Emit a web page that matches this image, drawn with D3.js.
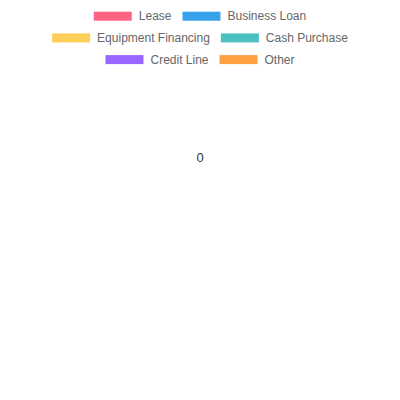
<!DOCTYPE html>
<html>
<head>
<meta charset="utf-8">
<script src="https://cdn.jsdelivr.net/npm/d3@7"></script>
<style>
  html, body { margin: 0; padding: 0; background: #fff; }
  svg { display: block; }
</style>
</head>
<body>
<div id="chart"></div>
<script>
const categories = ["Lease", "Business Loan", "Equipment Financing", "Cash Purchase", "Credit Line", "Other"];
const values = [0, 0, 0, 0, 0, 0];
const colors = ["#ff6384", "#36a2eb", "#ffce56", "#4bc0c0", "#9966ff", "#ff9f40"];
const legendRows = [[0, 1], [2, 3], [4, 5]];

let dim = {'width': 400, 'height': 400};

let svg = d3.select('#chart').append('svg')
    .attr('width', dim.width)
    .attr('height', dim.height);

let color = d3.scaleOrdinal().domain(categories).range(colors);

// legend, centred rows like chart.js
let boxW = 38, boxH = 9, textGap = 7, itemGap = 11;
let legend = svg.append('g');

legendRows.forEach((row, r) => {
    let cy = 16.2 + r * 21.7;
    let g = legend.append('g');
    let x = 0;
    row.forEach(i => {
        let item = g.append('g').attr('transform', `translate(${x},0)`);
        item.append('rect')
            .attr('x', 0).attr('y', cy - boxH / 2)
            .attr('width', boxW).attr('height', boxH)
            .attr('fill', color(categories[i]));
        let t = item.append('text')
            .attr('x', boxW + textGap).attr('y', cy)
            .attr('dy', '0.35em')
            .attr('font-family', 'Liberation Sans, Arial, sans-serif')
            .attr('font-size', 12)
            .attr('fill', '#666')
            .text(categories[i]);
        x += boxW + textGap + t.node().getComputedTextLength() + itemGap;
    });
    let w = x - itemGap;
    g.attr('transform', `translate(${(dim.width - w) / 2},0)`);
});

// pie (all values are zero, so no visible slices)
let cx = 200, cy = 157, radius = 120;
let pie = d3.pie().sort(null);
let arc = d3.arc().innerRadius(radius * 0.5).outerRadius(radius);

svg.append('g')
    .attr('transform', `translate(${cx},${cy})`)
    .selectAll('path')
    .data(pie(values))
    .enter()
    .append('path')
    .attr('d', arc)
    .attr('fill', (d, i) => color(categories[i]));

svg.append('text')
    .attr('x', cx).attr('y', cy)
    .attr('dy', '0.35em')
    .attr('text-anchor', 'middle')
    .attr('font-family', 'Liberation Sans, Arial, sans-serif')
    .attr('font-size', 13)
    .attr('fill', '#333')
    .text(d3.sum(values));
</script>
</body>
</html>
